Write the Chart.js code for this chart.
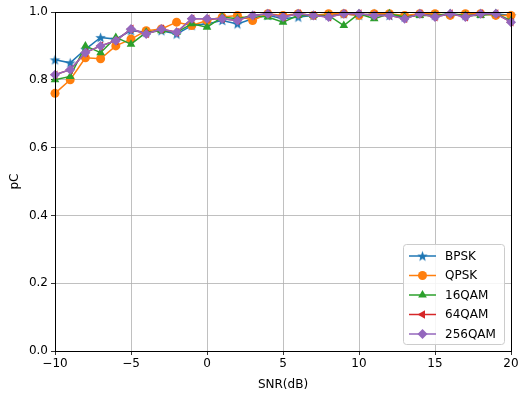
<!DOCTYPE html>
<html><head><meta charset="utf-8">
<script src="https://cdn.jsdelivr.net/npm/chart.js@4"></script>
<style>html,body{margin:0;padding:0;background:#fff}#wrap{width:519px;height:394px}</style>
</head><body><div id="wrap"><canvas id="c" width="519" height="394"></canvas></div>
<script>
const snr = [-10,-9,-8,-7,-6,-5,-4,-3,-2,-1,0,1,2,3,4,5,6,7,8,9,10,11,12,13,14,15,16,17,18,19,20];
const bpsk   = [0.859,0.850,0.890,0.925,0.920,0.945,0.940,0.945,0.935,0.960,0.965,0.975,0.965,0.980,0.990,0.980,0.985,0.990,0.990,0.995,0.990,0.995,0.990,0.985,0.995,0.990,0.995,0.990,0.995,0.995,0.990];
const qpsk   = [0.760,0.800,0.865,0.862,0.900,0.920,0.945,0.950,0.970,0.960,0.975,0.985,0.990,0.975,0.995,0.990,0.995,0.990,0.995,0.995,0.990,0.995,0.995,0.990,0.995,0.995,0.990,0.995,0.995,0.990,0.990];
const qam16  = [0.800,0.810,0.900,0.880,0.925,0.905,0.940,0.945,0.940,0.965,0.955,0.985,0.980,0.990,0.985,0.970,0.990,0.990,0.990,0.960,0.995,0.980,0.995,0.985,0.990,0.990,0.995,0.990,0.990,0.995,0.975];
const qam64  = [0.815,0.830,0.880,0.900,0.915,0.950,0.935,0.950,0.940,0.980,0.980,0.980,0.975,0.990,0.995,0.985,0.995,0.990,0.985,0.995,0.995,0.990,0.990,0.980,0.995,0.985,0.995,0.985,0.995,0.995,0.970];
const qam256 = [0.815,0.830,0.880,0.900,0.915,0.950,0.935,0.950,0.940,0.980,0.980,0.980,0.975,0.990,0.995,0.985,0.995,0.990,0.985,0.995,0.995,0.990,0.990,0.980,0.995,0.985,0.995,0.985,0.995,0.995,0.970];
const seriesNames = ['BPSK','QPSK','16QAM','64QAM','256QAM'];
const xTicks = [-10,-5,0,5,10,15,20];
const yTicks = [0,0.2,0.4,0.6,0.8,1.0];

const colors = ['#1f77b4','#ff7f0e','#2ca02c','#d62728','#9467bd'];

function starImg(color){
  const c = document.createElement('canvas'); c.width=13; c.height=13;
  const g = c.getContext('2d'); g.fillStyle=color; g.beginPath();
  const cx=6.5, cy=7, R=5.5, r=2.3;
  for(let i=0;i<10;i++){
    const a = -Math.PI/2 + i*Math.PI/5; const rr = i%2?r:R;
    const x=cx+rr*Math.cos(a), y=cy+rr*Math.sin(a);
    i?g.lineTo(x,y):g.moveTo(x,y);
  }
  g.closePath(); g.fill(); return c;
}
const star = starImg(colors[0]);
const styles = [
  {pointStyle: star, rotation:0, radius:4.5},
  {pointStyle:'circle', rotation:0, radius:4.5},
  {pointStyle:'triangle', rotation:0, radius:5},
  {pointStyle:'triangle', rotation:-90, radius:5},
  {pointStyle:'rectRot', rotation:0, radius:5}
];
const allData = [bpsk,qpsk,qam16,qam64,qam256];

const datasets = allData.map((d,i)=>({
  label: seriesNames[i],
  data: snr.map((x,j)=>({x:x,y:d[j]})),
  borderColor: colors[i], backgroundColor: colors[i],
  borderWidth: 1.5,
  pointStyle: styles[i].pointStyle, pointRotation: styles[i].rotation,
  pointRadius: styles[i].radius, pointBorderWidth: 0,
  pointBackgroundColor: colors[i],
  order: 5 - i,
  clip: 6
}));

const frameAndLegend = {
  id:'frameAndLegend',
  afterDatasetsDraw(chart){
    const {ctx, chartArea:a} = chart;
    ctx.save();
    ctx.strokeStyle='#000'; ctx.lineWidth=1;
    ctx.strokeRect(Math.round(a.left)+0.5, Math.round(a.top)+0.5, Math.round(a.right-a.left), Math.round(a.bottom-a.top));
    // legend
    const w=101, h=100;
    const lx = a.right - 7 - w, ly = a.bottom - 7 - h;
    ctx.fillStyle='rgba(255,255,255,0.85)'; ctx.strokeStyle='#cccccc'; ctx.lineWidth=1;
    ctx.beginPath();
    if (ctx.roundRect) ctx.roundRect(lx+0.5, ly+0.5, w, h, 3); else ctx.rect(lx+0.5,ly+0.5,w,h);
    ctx.fill(); ctx.stroke();
    ctx.font='12px "DejaVu Sans"'; ctx.textBaseline='middle'; ctx.textAlign='left';
    chart.data.datasets.forEach((ds,i)=>{
      const y = ly + 12 + i*19.5;
      ctx.strokeStyle=ds.borderColor; ctx.lineWidth=1.5;
      ctx.beginPath(); ctx.moveTo(lx+6,y); ctx.lineTo(lx+33,y); ctx.stroke();
      ctx.fillStyle=ds.borderColor; ctx.strokeStyle=ds.borderColor;
      Chart.helpers.drawPoint(ctx,{pointStyle:ds.pointStyle, rotation:ds.pointRotation, radius:ds.pointRadius, borderWidth:0}, lx+19.5, y);
      ctx.fillStyle='#000';
      ctx.fillText(ds.label, lx+42, y+0.5);
    });
    ctx.restore();
  }
};

new Chart(document.getElementById('c'), {
  type:'line',
  data:{datasets},
  options:{
    responsive:false, animation:false, devicePixelRatio:1,
    layout:{padding:{left:8,right:8,top:12,bottom:0}},
    plugins:{legend:{display:false}, tooltip:{enabled:false}},
    scales:{
      x:{type:'linear', min:-10, max:20,
        afterBuildTicks(s){ s.ticks = xTicks.map(v=>({value:v})); },
        afterFit(s){ s.height = 43; s.paddingLeft = 0; s.paddingRight = 0; },
        grid:{color:'#b0b0b0', lineWidth:0.8, drawTicks:true, tickLength:4, tickColor:'#000'},
        border:{display:false},
        ticks:{color:'#000', font:{family:'DejaVu Sans', size:12}, padding:2, maxRotation:0,
          callback:v=> (v<0?'\u2212'+Math.abs(v):String(v))},
        title:{display:true, text:'SNR(dB)', color:'#000', font:{family:'DejaVu Sans', size:12}, padding:{top:0,bottom:2}}
      },
      y:{type:'linear', min:0, max:1,
        afterBuildTicks(s){ s.ticks = yTicks.map(v=>({value:v})); },
        afterFit(s){ s.width = 47; },
        grid:{color:'#b0b0b0', lineWidth:0.8, drawTicks:true, tickLength:4, tickColor:'#000'},
        border:{display:false},
        ticks:{color:'#000', font:{family:'DejaVu Sans', size:12}, padding:3,
          callback:v=>v.toFixed(1)},
        title:{display:true, text:'pC', color:'#000', font:{family:'DejaVu Sans', size:12}, padding:{top:0,bottom:2}}
      }
    }
  },
  plugins:[frameAndLegend]
});
</script></body></html>
